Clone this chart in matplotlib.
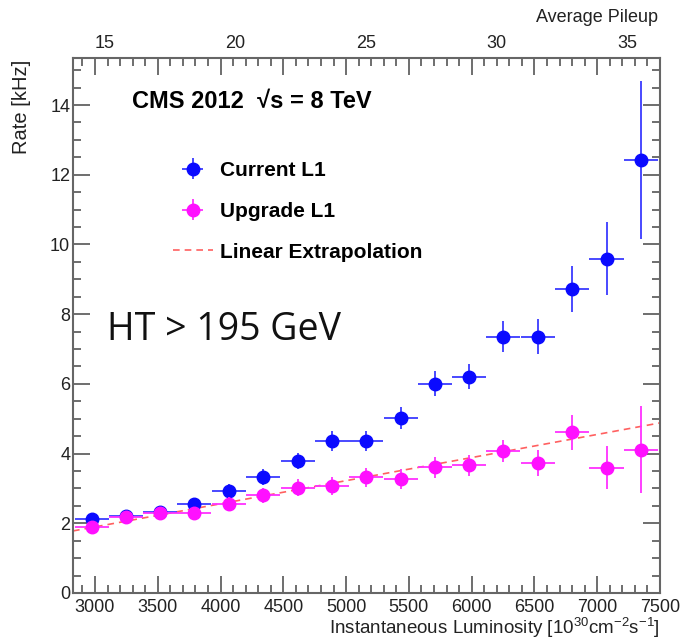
import numpy as np
import matplotlib.pyplot as plt
from matplotlib.ticker import MultipleLocator
from matplotlib.lines import Line2D

plt.rcParams['font.family'] = ['Liberation Sans', 'DejaVu Sans']
plt.rcParams['mathtext.default'] = 'regular'

# bin centres in instantaneous luminosity [1e30 cm-2 s-1]
lumi = [2974, 3246, 3516, 3788, 4069, 4339, 4614, 4891, 5161,
        5434, 5706, 5976, 6248, 6526, 6802, 7074, 7346]
lumi_err = [136] * len(lumi)

# rates [kHz]
current_rate = [2.11, 2.21, 2.32, 2.54, 2.92, 3.32, 3.78, 4.37, 4.37,
                5.03, 6.01, 6.21, 7.35, 7.35, 8.72, 9.59, 12.42]
current_err = [0.13, 0.14, 0.15, 0.17, 0.20, 0.23, 0.23, 0.29, 0.29,
               0.32, 0.35, 0.36, 0.44, 0.50, 0.67, 1.04, 2.26]

upgrade_rate = [1.90, 2.17, 2.30, 2.29, 2.56, 2.80, 3.02, 3.07, 3.32,
                3.27, 3.61, 3.66, 4.08, 3.72, 4.61, 3.59, 4.11]
upgrade_err = [0.14, 0.15, 0.16, 0.18, 0.20, 0.22, 0.24, 0.25, 0.27,
               0.30, 0.30, 0.29, 0.32, 0.37, 0.50, 0.62, 1.25]

# linear extrapolation endpoints
fit_x = [2825, 7500]
fit_y = [1.78, 4.88]

pileup_ticks = [15, 20, 25, 30, 35]

fig = plt.figure(figsize=(6.85, 6.43), dpi=100)
ax = fig.add_axes([0.1066, 0.0778, 0.8569, 0.832])

ax.plot(fit_x, fit_y, ls=(0, (4, 3)), color='#ff6060', lw=1.2, zorder=1)

cur = ax.errorbar(lumi, current_rate, xerr=lumi_err, yerr=current_err,
                  fmt='o', color='#0a0aff', ecolor='#3a3aff', ms=9,
                  elinewidth=1.3, capsize=0, zorder=3)
upg = ax.errorbar(lumi, upgrade_rate, xerr=lumi_err, yerr=upgrade_err,
                  fmt='o', color='#ff10ff', ecolor='#ff30ff', ms=9,
                  elinewidth=1.3, capsize=0, zorder=4)

ax.set_xlim(2825, 7500)
ax.set_ylim(0, 15.35)

ax.xaxis.set_major_locator(MultipleLocator(500))
ax.xaxis.set_minor_locator(MultipleLocator(100))
ax.yaxis.set_major_locator(MultipleLocator(2))
ax.yaxis.set_minor_locator(MultipleLocator(0.5))
ax.tick_params(which='both', direction='in', top=True, right=True,
               color='#555555', width=1.2)
ax.tick_params(which='major', length=12, labelsize=13, labelcolor='#222222')
ax.tick_params(which='minor', length=6)
ax.tick_params(axis='x', which='major', pad=4)
ax.tick_params(axis='y', which='major', pad=2)
for s in ax.spines.values():
    s.set_color('#666666')
    s.set_linewidth(1.5)

# top axis: average pileup labels only
def to_pu(L):
    return 15 + (np.asarray(L) - 3075) * 0.0048

def from_pu(p):
    return 3075 + (np.asarray(p) - 15) / 0.0048

sec = ax.secondary_xaxis('top', functions=(to_pu, from_pu))
sec.set_xticks(pileup_ticks)
sec.tick_params(length=0, labelsize=13, labelcolor='#222222', pad=4)
sec.spines['top'].set_visible(False)

fig.text(658 / 685, 1 - 18 / 643, 'Average Pileup', ha='right', va='center',
         fontsize=13, color='#222222')
fig.text(660 / 685, 1 - 628 / 643,
         r'Instantaneous Luminosity [10$^{30}$cm$^{-2}$s$^{-1}$]',
         ha='right', va='center', fontsize=13.5, color='#222222')
fig.text(22 / 685, 1 - 60 / 643, 'Rate [kHz]', rotation=90, ha='center',
         va='top', fontsize=14.5, color='#222222')

fig.text(132 / 685, 1 - 102 / 643, 'CMS 2012  \u221as = 8 TeV',
         ha='left', va='center', fontsize=17, fontweight='bold')
fig.text(107 / 685, 1 - 330 / 643, 'HT > 195 GeV', ha='left', va='center',
         fontsize=27, family=['Open Sans', 'DejaVu Sans'], color='#111111')

extrap = Line2D([], [], ls=(0, (4, 3)), color='#ff6060', lw=1.2)
leg = ax.legend([cur, upg, extrap],
                ['Current L1', 'Upgrade L1', 'Linear Extrapolation'],
                loc='upper left', bbox_to_anchor=(173 / 685, 1 - 161 / 643),
                bbox_transform=fig.transFigure, frameon=False,
                prop={'weight': 'bold', 'size': 15}, handlelength=1.9,
                labelspacing=1.05, handletextpad=0.35, borderpad=0,
                borderaxespad=0)

fig.savefig('out.png', dpi=100)
